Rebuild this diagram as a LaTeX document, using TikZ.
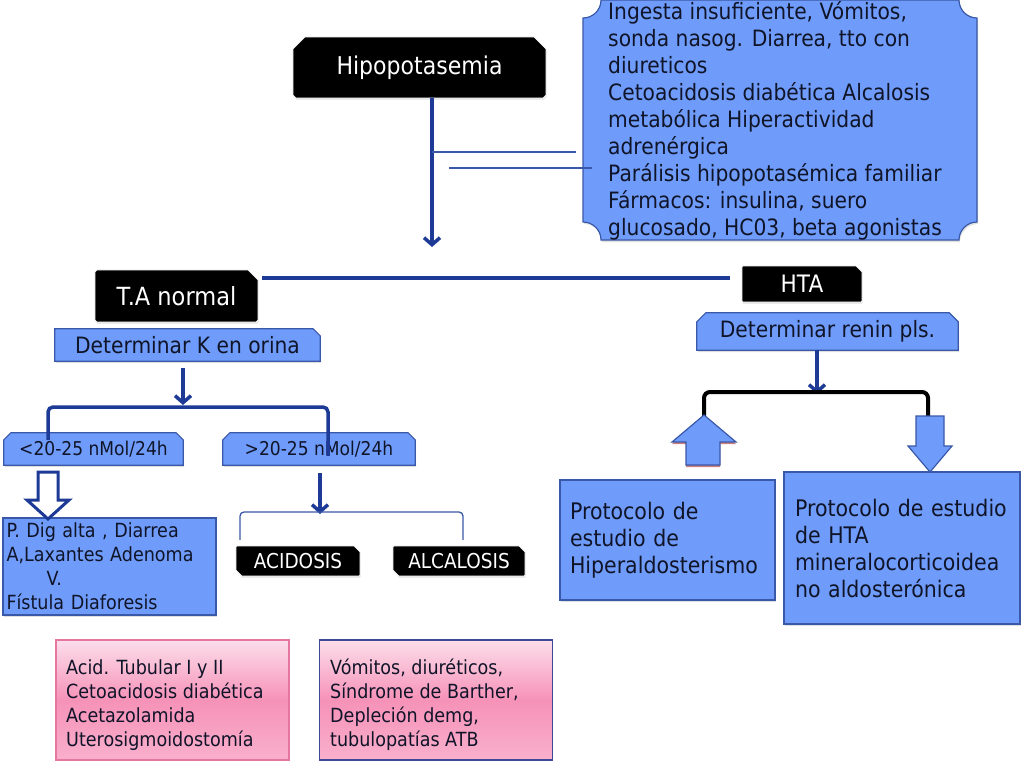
\documentclass[tikz,border=0pt]{standalone}
\usepackage{fontspec}
\setmainfont{DejaVu Sans}[FakeStretch=0.9]
\usetikzlibrary{arrows.meta,shadows}
\definecolor{bfill}{RGB}{111,156,250}
\definecolor{bline}{RGB}{58,88,168}
\definecolor{dblue}{RGB}{28,58,150}
\definecolor{txt}{RGB}{16,20,40}
\definecolor{pinkA}{RGB}{252,222,234}
\definecolor{pinkB}{RGB}{246,146,184}
\definecolor{pinkC}{RGB}{249,176,204}
\definecolor{pinkline}{RGB}{228,118,160}
\definecolor{pinkline2}{RGB}{62,72,150}
\pgfdeclarelayer{background}
\pgfsetlayers{background,main}
% #1 node, #2 style, #3 nw, #4 ne, #5 se, #6 sw chamfer sizes
\newcommand{\snipshape}[6]{%
  \begin{pgfonlayer}{background}
  \path[#2] ([xshift=#3]#1.north west) -- ([xshift=-#4]#1.north east)
    -- ([yshift=-#4]#1.north east) -- ([yshift=#5]#1.south east)
    -- ([xshift=-#5]#1.south east) -- ([xshift=#6]#1.south west)
    -- ([yshift=#6]#1.south west) -- ([yshift=-#3]#1.north west) -- cycle;
  \end{pgfonlayer}}
\begin{document}
\begin{tikzpicture}[x=1pt,y=-1pt,
  lbl/.style={rectangle, inner sep=0pt},
  blacklbl/.style={lbl, text=white},
  bluelbl/.style={lbl, text=txt},
  blackshape/.style={fill=black, draw=white, line width=1pt,
    drop shadow={shadow xshift=0.5pt, shadow yshift=-1.5pt, opacity=0.25}},
  blueshape/.style={fill=bfill, draw=bline, line width=1.2pt,
    drop shadow={shadow xshift=1pt, shadow yshift=-2pt, opacity=0.25}},
  bluebox/.style={rectangle, fill=bfill, draw=bline, line width=1.2pt, text=txt, inner sep=0pt,
    drop shadow={shadow xshift=1pt, shadow yshift=-2pt, opacity=0.25}},
  pinkbox/.style={rectangle, top color=pinkA, bottom color=pinkC, middle color=pinkB,
    line width=1.2pt, text=txt, inner sep=0pt, minimum width=233pt, minimum height=120pt},
  conn/.style={draw=dblue, line width=3.5pt},
  arr/.style={draw=dblue, line width=3.5pt, -{Straight Barb[length=7pt,width=16pt,line width=3.5pt]}},
  thinline/.style={draw=bline, line width=1.3pt},
  blockarrow/.style={fill=bfill, draw=bline, line width=1.2pt, line join=miter}
]
\useasboundingbox (0,0) rectangle (1024,768);

% ---------- top part ----------
\node[blacklbl, minimum width=253pt, minimum height=61pt, font=\fontsize{24.5}{28}\selectfont]
  (hipo) at (419.5,67.5) {Hipopotasemia};
\snipshape{hipo}{blackshape}{12pt}{12pt}{3pt}{3pt}

% plaque box with causes
\draw[fill=bfill, draw=bline, line width=1.2pt,
  drop shadow={shadow xshift=1pt, shadow yshift=-2pt, opacity=0.25}]
  (601,0) -- (959,0) arc[start angle=180, end angle=90, radius=18]
  -- (977,222) arc[start angle=270, end angle=180, radius=18]
  -- (601,240) arc[start angle=0, end angle=-90, radius=18]
  -- (583,18) arc[start angle=90, end angle=0, radius=18] -- cycle;
\node[anchor=west, align=left, text=txt, inner sep=0pt,
  font=\fontsize{22.5}{27}\selectfont] (causes) at (608,121)
  {Ingesta insuficiente, Vómitos,\\
   sonda nasog. Diarrea, tto con\\
   diureticos\\
   Cetoacidosis diabética Alcalosis\\
   metabólica Hiperactividad\\
   adrenérgica\\
   Parálisis hipopotasémica familiar\\
   Fármacos: insulina, suero\\
   glucosado, HC03, beta agonistas};

\coordinate (mainend) at (432,247);
\draw[arr] (hipo.south -| mainend) -- (mainend);
\coordinate (la) at (576,152);
\coordinate (lb1) at (449,168);
\coordinate (lb2) at (592,168);
\draw[thinline] (la -| mainend) -- (la);
\draw[thinline] (lb1) -- (lb2);

% ---------- second level ----------
\node[blacklbl, minimum width=163pt, minimum height=52pt, font=\fontsize{25}{28}\selectfont]
  (tan) at (176.5,296) {T.A normal};
\snipshape{tan}{blackshape}{2pt}{10pt}{2pt}{2pt}
\node[blacklbl, minimum width=120pt, minimum height=36pt, font=\fontsize{24}{27}\selectfont]
  (hta) at (802,284) {HTA};
\snipshape{hta}{blackshape}{1pt}{6pt}{1pt}{1pt}
\draw[conn] ([xshift=4pt]tan.east |- 0,278) -- ([xshift=-12pt]hta.west |- 0,278);

\node[bluelbl, minimum width=265pt, minimum height=32pt, font=\fontsize{22.5}{26}\selectfont]
  (detk) at (187.5,345) {Determinar K en orina};
\snipshape{detk}{blueshape}{0pt}{7pt}{0pt}{0pt}
\node[bluelbl, minimum width=261pt, minimum height=37pt, font=\fontsize{22.5}{26}\selectfont]
  (detr) at (827.5,331.5) {Determinar renin pls.};
\snipshape{detr}{blueshape}{9pt}{9pt}{0pt}{0pt}

% ---------- left branch ----------
\node[bluelbl, minimum width=179pt, minimum height=32pt, font=\fontsize{19}{22}\selectfont]
  (lo) at (93.5,449) {<20-25 nMol/24h};
\snipshape{lo}{blueshape}{7pt}{7pt}{0pt}{0pt}
\node[bluelbl, minimum width=192pt, minimum height=32pt, font=\fontsize{19}{22}\selectfont]
  (hi) at (319,449) {>20-25 nMol/24h};
\snipshape{hi}{blueshape}{7pt}{7pt}{0pt}{0pt}

\coordinate (kbr) at (183,407);
\draw[arr] ([yshift=-7pt]detk.south -| kbr) -- ([yshift=2pt]kbr);
\coordinate (lbl) at (48,407);
\coordinate (lbr) at (328,407);
\draw[conn, rounded corners=5pt] ([yshift=-7pt]lo.north -| lbl) -- (lbl) -- (lbr) -- ([yshift=-23pt]hi.north -| lbr);

\node[bluebox, minimum width=213pt, minimum height=97pt, text width=206pt,
  align=left, font=\fontsize{19.5}{24}\selectfont] (pdig) at (109.5,566.5)
  {P. Dig alta , Diarrea\\
   A,Laxantes Adenoma\\
   \hspace*{40pt}V.\\
   Fístula Diaforesis};
% hollow block arrow
\draw[fill=white, draw=dblue, line width=3pt, line join=miter]
  (38,472) -- (58,472) -- (58,500) -- (69,500) -- (48,519) -- (27,500) -- (38,500) -- cycle;

\coordinate (hbr) at (320,512);
\draw[arr] ([yshift=-8pt]hi.south -| hbr) -- ([yshift=-2pt]hbr);

\node[blacklbl, minimum width=124pt, minimum height=30pt, font=\fontsize{20.5}{23}\selectfont]
  (acid) at (298,561) {ACIDOSIS};
\snipshape{acid}{blackshape}{1pt}{6pt}{1pt}{6pt}
\node[blacklbl, minimum width=132pt, minimum height=30pt, font=\fontsize{20.5}{23}\selectfont]
  (alca) at (459,561) {ALCALOSIS};
\snipshape{alca}{blackshape}{1pt}{6pt}{1pt}{6pt}
\coordinate (abl) at (240,512);
\coordinate (abr) at (463,512);
\draw[thinline, rounded corners=4pt] ([yshift=6pt]acid.north -| abl) -- (abl) -- (abr) -- ([yshift=6pt]alca.north -| abr);

\node[pinkbox, draw=pinkline] (pk1) at (172.5,700) {};
\node[anchor=west, align=left, text=txt, inner sep=0pt,
  font=\fontsize{19.5}{24}\selectfont] (pk1t) at (66,705)
  {Acid. Tubular I y II\\
   Cetoacidosis diabética\\
   Acetazolamida\\
   Uterosigmoidostomía};
\node[pinkbox, draw=pinkline2] (pk2) at (436,700) {};
\node[anchor=west, align=left, text=txt, inner sep=0pt,
  font=\fontsize{19.5}{24}\selectfont] (pk2t) at (330,705)
  {Vómitos, diuréticos,\\
   Síndrome de Barther,\\
   Depleción demg,\\
   tubulopatías ATB};

% ---------- right branch ----------
\coordinate (rbr) at (817,392);
\draw[arr] (detr.south -| rbr) -- ([yshift=-2pt]rbr);
\coordinate (rbl) at (704,392);
\coordinate (rbrr) at (928,392);
\draw[black, line width=4pt, rounded corners=6pt] (704,416) -- (rbl) -- (rbrr) -- (928,416);

% up block arrow
\draw[blockarrow, drop shadow={shadow xshift=0pt, shadow yshift=-2pt, fill=red!60!black, opacity=0.5}]
  (704,415) -- (736,442) -- (720,442) -- (720,465) -- (686,465) -- (686,442) -- (672,442) -- cycle;
% down block arrow
\draw[blockarrow]
  (916,416) -- (944,416) -- (944,446) -- (952,446) -- (930,472) -- (908,446) -- (916,446) -- cycle;

\node[bluebox, minimum width=215pt, minimum height=120pt, text width=195pt,
  align=left, font=\fontsize{22.8}{27}\selectfont] (prot1) at (667.5,540)
  {Protocolo de\\ estudio de\\ Hiperaldosterismo};
\node[bluebox, minimum width=236pt, minimum height=152pt, text width=214pt,
  align=left, font=\fontsize{22.8}{27}\selectfont] (prot2) at (902,548)
  {Protocolo de estudio\\ de HTA\\ mineralocorticoidea\\ no aldosterónica};
\end{tikzpicture}
\end{document}
